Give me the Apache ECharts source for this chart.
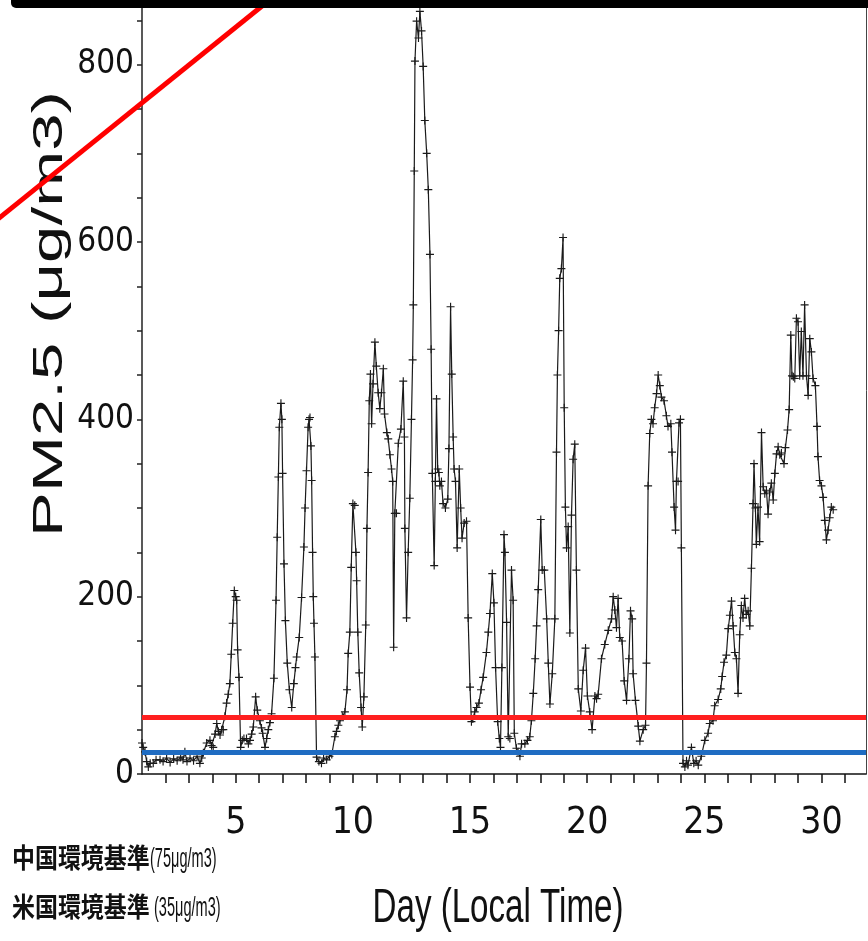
<!DOCTYPE html>
<html>
<head>
<meta charset="utf-8">
<script src="https://cdn.jsdelivr.net/npm/echarts@6/dist/echarts.min.js"></script>
<style>
html,body{margin:0;padding:0;background:#fff;}
#chart{width:868px;height:941px;}
</style>
</head>
<body>
<div id="chart"></div>
<script>
// Day (local time) of each reading
const days = [
1.00,1.05,1.13,1.20,1.27,1.35,1.48,1.60,1.77,1.90,2.05,2.20,2.35,2.50,2.65,2.75,2.83,2.92,3.05,3.20,
3.35,3.47,3.55,3.62,3.76,3.90,3.97,4.04,4.12,4.19,4.26,4.33,4.40,4.47,4.54,4.61,4.68,4.75,4.81,4.87,
4.94,5.00,5.04,5.08,5.14,5.21,5.28,5.35,5.46,5.54,5.61,5.68,5.75,5.85,5.92,6.03,6.10,6.15,6.25,6.32,
6.39,6.46,6.53,6.63,6.72,6.77,6.82,6.86,6.93,6.97,7.00,7.06,7.12,7.20,7.29,7.39,7.48,7.55,7.60,7.71,
7.81,7.91,7.96,8.02,8.09,8.13,8.17,8.21,8.24,8.28,8.31,8.34,8.38,8.45,8.55,8.66,8.75,8.88,9.00,9.10,
9.23,9.30,9.38,9.45,9.55,9.66,9.75,9.80,9.87,9.93,10.00,10.08,10.13,10.16,10.21,10.27,10.35,10.40,10.47,10.55,
10.60,10.65,10.70,10.75,10.80,10.86,10.94,11.00,11.08,11.15,11.22,11.30,11.35,11.45,11.51,11.58,11.65,11.70,11.74,11.79,
11.86,11.94,12.05,12.15,12.20,12.22,12.29,12.36,12.43,12.50,12.55,12.58,12.62,12.65,12.72,12.80,12.86,12.93,13.00,13.07,
13.15,13.22,13.29,13.34,13.39,13.47,13.52,13.57,13.62,13.67,13.71,13.78,13.85,13.95,14.05,14.10,14.17,14.22,14.28,14.32,
14.38,14.45,14.54,14.60,14.66,14.75,14.85,14.92,15.00,15.06,15.12,15.20,15.28,15.38,15.47,15.56,15.70,15.78,15.85,15.95,
16.02,16.09,16.18,16.25,16.30,16.36,16.45,16.49,16.56,16.63,16.70,16.77,16.84,16.89,16.98,17.05,17.13,17.20,17.34,17.45,
17.55,17.62,17.70,17.78,17.84,17.91,18.02,18.08,18.17,18.27,18.34,18.41,18.51,18.62,18.69,18.73,18.78,18.83,18.90,18.97,
19.02,19.07,19.12,19.19,19.26,19.33,19.40,19.47,19.54,19.62,19.73,19.83,19.93,20.01,20.11,20.21,20.33,20.40,20.47,20.61,
20.75,20.90,21.04,21.11,21.18,21.25,21.32,21.39,21.49,21.58,21.68,21.78,21.85,21.92,21.96,22.06,22.18,22.25,22.39,22.49,
22.53,22.60,22.67,22.74,22.81,22.88,22.96,23.03,23.10,23.17,23.28,23.38,23.45,23.57,23.62,23.71,23.77,23.81,23.88,23.92,
23.98,24.02,24.09,24.17,24.24,24.30,24.45,24.55,24.65,24.74,24.87,25.02,25.16,25.23,25.37,25.44,25.59,25.70,25.76,25.84,
25.94,26.02,26.09,26.16,26.23,26.30,26.37,26.44,26.51,26.58,26.65,26.72,26.79,26.87,26.94,27.01,27.08,27.12,27.18,27.22,
27.29,27.36,27.44,27.51,27.58,27.65,27.72,27.79,27.86,27.94,28.01,28.08,28.15,28.22,28.29,28.40,28.46,28.55,28.62,28.69,
28.74,28.80,28.86,28.93,29.00,29.07,29.14,29.21,29.28,29.36,29.43,29.50,29.57,29.64,29.74,29.81,29.85,29.92,30.00,30.07,
30.14,30.21,30.28,30.35,30.42,30.50
];
// PM2.5 concentration (μg/m3)
const pm25 = [
35,30,25,14,8,12,12,16,16,14,18,13,17,15,19,16,25,14,18,15,
20,12,18,24,35,38,32,30,45,57,48,44,50,50,65,80,90,102,135,170,
207,200,196,140,109,30,38,40,40,34,38,45,53,87,72,60,52,46,30,40,
50,58,68,108,196,267,335,391,418,400,339,237,173,125,95,75,102,120,132,154,
199,256,300,342,391,400,402,370,331,250,200,170,132,19,14,12,18,16,20,22,
42,48,55,60,65,70,95,136,160,233,305,303,250,218,160,114,75,53,87,168,
277,340,421,451,395,440,487,460,430,412,430,457,406,385,378,360,344,330,143,294,
294,373,389,443,380,277,176,250,311,400,467,529,680,804,849,830,860,838,798,737,
700,659,586,479,339,235,330,423,344,340,325,330,305,300,310,367,527,451,380,344,
330,255,344,300,266,283,285,176,98,59,62,70,75,80,95,109,137,160,181,226,
193,120,59,40,30,120,270,250,171,42,40,230,196,46,29,25,20,34,34,38,
42,60,91,130,167,208,287,230,230,175,125,79,113,175,363,450,500,559,570,605,
413,301,255,279,159,292,355,372,230,96,71,117,142,88,70,50,88,85,90,130,
146,162,175,200,185,165,198,154,150,105,83,130,184,175,113,83,54,37,50,55,
125,325,384,400,395,413,429,450,438,425,421,404,392,395,363,301,275,330,330,396,
400,255,12,8,15,10,30,12,15,10,20,38,46,57,60,77,84,96,110,126,
134,164,179,195,167,137,130,91,157,190,176,198,180,184,167,232,305,350,300,259,
301,262,385,324,316,320,293,318,328,309,339,361,369,360,362,350,368,388,411,495,
449,448,446,514,510,449,499,449,529,449,427,491,476,446,438,392,358,331,325,312,
286,264,275,289,301,298
];
// Tick labels
const xTickLabels = [5, 10, 15, 20, 25, 30];
const yTickLabels = [0, 200, 400, 600, 800];
// Reference lines as drawn on the picture
const refLineChina = 64;
const refLineUS = 25;
// Texts
const yName = 'PM2.5 (μg/m3)';
const xName = 'Day (Local Time)';
const noteChina = ['中国環境基準', '(75μg/m3)'];
const noteUS = ['米国環境基準', '(35μg/m3)'];

const seriesData = days.map((d, i) => [d, pm25[i]]);
const tickFont = "'Liberation Sans Narrow', 'DejaVu Sans Condensed', 'Liberation Sans', sans-serif";
const cjkFont = "bold 27px 'Noto Sans CJK JP', sans-serif";
const latFont = "normal 28px 'Liberation Sans', Arial, sans-serif";

const chart = echarts.init(document.getElementById('chart'), null, {renderer: 'canvas'});
chart.setOption({
  animation: false,
  backgroundColor: '#fff',
  grid: {left: 142, right: 2, top: 7, bottom: 167, containLabel: false},
  xAxis: {
    type: 'value', min: 1, max: 31.9, interval: 1,
    axisLine: {show: true, lineStyle: {color: '#111', width: 1.5}},
    axisTick: {show: true, length: 9, lineStyle: {color: '#111', width: 1.5}},
    axisLabel: {
      formatter: v => xTickLabels.includes(v) ? String(v) : '',
      fontSize: 37, fontFamily: tickFont, color: '#111', margin: 31,
      showMinLabel: false, showMaxLabel: false
    },
    splitLine: {show: false}
  },
  yAxis: [{
    type: 'value', min: 0, max: 865, interval: 50,
    axisLine: {show: true, lineStyle: {color: '#222', width: 1.5}},
    axisTick: {show: true, length: 5, lineStyle: {color: '#222', width: 1.5}},
    axisLabel: {
      formatter: v => yTickLabels.includes(v) ? String(v) : '',
      fontSize: 33, fontFamily: tickFont, color: '#111', margin: 8
    },
    splitLine: {show: false}
  }, {
    type: 'value', min: 0, max: 865, position: 'right',
    axisLine: {show: true, lineStyle: {color: '#444', width: 1}},
    axisTick: {show: false}, axisLabel: {show: false}, splitLine: {show: false}
  }],
  series: [{
    type: 'line',
    data: seriesData,
    showAllSymbol: true,
    symbol: 'path://M3,0h1v3h3v1h-3v3h-1v-3h-3v-1h3z',
    symbolSize: 8,
    itemStyle: {color: '#1a1a1a'},
    lineStyle: {color: '#1a1a1a', width: 1.2},
    clip: true,
    markLine: {
      silent: true,
      symbol: ['none', 'none'],
      label: {show: false},
      data: [
        {yAxis: refLineChina, lineStyle: {color: '#ff1f1f', width: 5, type: 'solid'}},
        {yAxis: refLineUS, lineStyle: {color: '#1f6cc2', width: 5, type: 'solid'}}
      ]
    }
  }],
  graphic: [
    {type: 'line', shape: {x1: -2, y1: 219, x2: 272, y2: -2}, style: {stroke: '#ff0000', lineWidth: 5}, z: 100},
    {type: 'rect', shape: {x: 11, y: -6, width: 870, height: 14, r: 5}, style: {fill: '#000'}, z: 101},
    {type: 'text', x: 50, y: 314, rotation: Math.PI / 2, scaleX: 1.6, z: 50,
      style: {text: yName, font: "normal 42px 'Liberation Sans', Arial, sans-serif", fill: '#111', textAlign: 'center', textVerticalAlign: 'middle'}},
    {type: 'text', x: 498, y: 909, scaleX: 0.69, z: 50,
      style: {text: xName, font: "normal 48px 'Liberation Sans', Arial, sans-serif", fill: '#111', textAlign: 'center', textVerticalAlign: 'middle'}},
    {type: 'text', x: 12, y: 858, scaleX: 0.85, z: 50,
      style: {text: noteChina[0], font: cjkFont, fill: '#111', textVerticalAlign: 'middle'}},
    {type: 'text', x: 150, y: 859, scaleX: 0.52, z: 50,
      style: {text: noteChina[1], font: latFont, fill: '#111', textVerticalAlign: 'middle'}},
    {type: 'text', x: 12, y: 907, scaleX: 0.85, z: 50,
      style: {text: noteUS[0], font: cjkFont, fill: '#111', textVerticalAlign: 'middle'}},
    {type: 'text', x: 154, y: 908, scaleX: 0.52, z: 50,
      style: {text: noteUS[1], font: latFont, fill: '#111', textVerticalAlign: 'middle'}}
  ]
});
</script>
</body>
</html>
